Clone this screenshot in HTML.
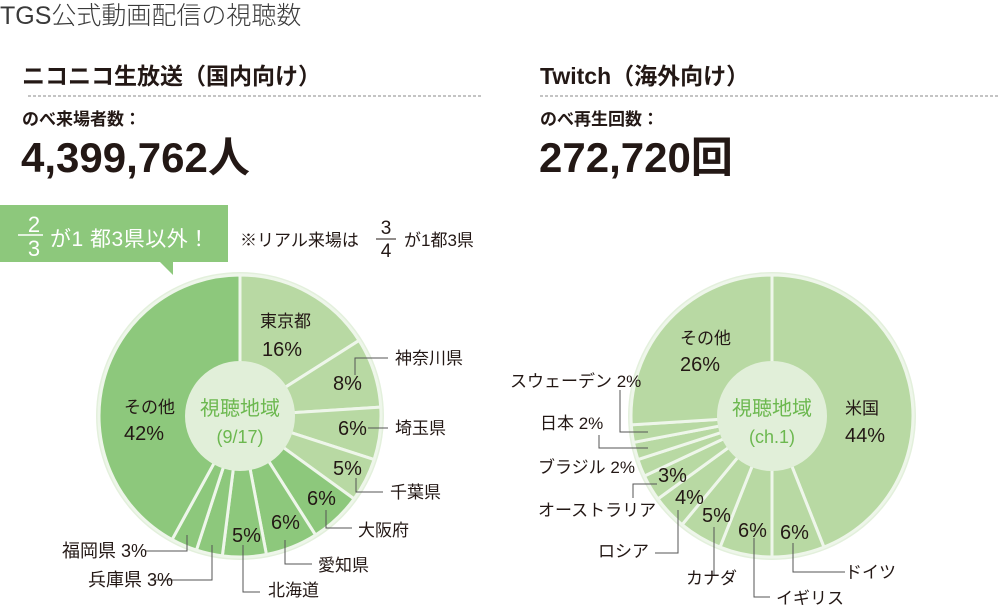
<!DOCTYPE html>
<html><head><meta charset="utf-8">
<style>
body{margin:0;width:1000px;height:613px;background:#fff;overflow:hidden;font-family:"Liberation Sans","Noto Sans CJK JP",sans-serif;}
svg{display:block}
text{font-family:"Liberation Sans","Noto Sans CJK JP",sans-serif;fill:#231815}
</style></head><body>
<svg id="s" width="1000" height="613" viewBox="0 0 1000 613">
<text x="0" y="24" font-size="25" style="fill:#3a3a3a;font-weight:300">TGS公式動画配信の視聴数</text>
<text x="22" y="84" font-size="23" font-weight="bold">ニコニコ生放送（国内向け）</text>
<text x="540" y="84" font-size="23" font-weight="bold">Twitch（海外向け）</text>
<line x1="28" y1="96" x2="482" y2="96" stroke="#888" stroke-dasharray="3,2" stroke-width="1"/>
<line x1="540" y1="96" x2="998" y2="96" stroke="#888" stroke-dasharray="3,2" stroke-width="1"/>
<text x="22" y="125" font-size="17" font-weight="bold">のべ来場者数：</text>
<text x="540" y="125" font-size="17" font-weight="bold">のべ再生回数：</text>
<text x="21" y="172" font-size="42" font-weight="bold">4,399,762人</text>
<text x="539" y="172" font-size="42" font-weight="bold">272,720回</text>
<!-- callout -->
<path d="M0,205 H228 V262 H173 V275 L160,262 H0 Z" fill="#8dc87c"/>
<text x="34" y="232" font-size="22" text-anchor="middle" style="fill:#fff">2</text>
<line x1="18" y1="235" x2="43" y2="235" stroke="#fff" stroke-width="1.5"/>
<text x="34" y="256" font-size="22" text-anchor="middle" style="fill:#fff">3</text>
<text x="50" y="246" font-size="21" style="fill:#fff" letter-spacing="0.5">が1 都3県以外！</text>
<text x="240" y="246" font-size="17">※リアル来場は</text>
<text x="386" y="234" font-size="19" text-anchor="middle">3</text>
<line x1="376" y1="239" x2="396" y2="239" stroke="#231815" stroke-width="1"/>
<text x="386" y="257" font-size="19" text-anchor="middle">4</text>
<text x="404" y="246" font-size="17">が1都3県</text>
<g id="pies"></g>
<g stroke="#555" stroke-width="1" fill="none">
<polyline points="355,375 355,358 388,358"/>
<polyline points="368,428 388,428"/>
<polyline points="356,478 356,492 383,492"/>
<polyline points="326,510 326,528 352,528"/>
<polyline points="285,540 285,564 312,564"/>
<polyline points="243,545 243,592 260,592"/>
<polyline points="150,580 212,580 212,545"/>
<polyline points="145,551 187,551 187,535"/>
<polyline points="648,432 620,432 620,390"/>
<polyline points="648,448 599,448 599,435"/>
<polyline points="657,484 633,484 633,498"/>
<polyline points="678,510 678,553 655,553"/>
<polyline points="714,527 714,575"/>
<polyline points="754,538 754,597 770,597"/>
<polyline points="793,543 793,572 845,572"/>
</g>
<g font-size="17">
<text x="260" y="327">東京都</text>
<text x="395" y="364">神奈川県</text>
<text x="395" y="434">埼玉県</text>
<text x="390" y="498">千葉県</text>
<text x="358" y="536">大阪府</text>
<text x="318" y="571">愛知県</text>
<text x="268" y="596">北海道</text>
<text x="88" y="586" font-size="18">兵庫県 3%</text>
<text x="62" y="557" font-size="18">福岡県 3%</text>
<text x="124" y="413">その他</text>
<text x="680" y="344">その他</text>
<text x="845" y="414">米国</text>
<text x="510" y="387">スウェーデン 2%</text>
<text x="540" y="429">日本 2%</text>
<text x="538" y="473">ブラジル 2%</text>
<text x="538" y="516">オーストラリア</text>
<text x="598" y="557">ロシア</text>
<text x="686" y="584">カナダ</text>
<text x="776" y="604">イギリス</text>
<text x="845" y="578">ドイツ</text>
</g>
<g font-size="20">
<text x="262" y="356">16%</text>
<text x="333" y="390">8%</text>
<text x="338" y="435">6%</text>
<text x="333" y="475">5%</text>
<text x="307" y="505">6%</text>
<text x="271" y="529">6%</text>
<text x="232" y="542">5%</text>
<text x="124" y="440">42%</text>
<text x="680" y="371">26%</text>
<text x="845" y="442">44%</text>
<text x="658" y="482">3%</text>
<text x="675" y="504">4%</text>
<text x="702" y="522">5%</text>
<text x="738" y="537">6%</text>
<text x="780" y="539">6%</text>
</g>
<g font-size="20" text-anchor="middle">
<text x="240" y="415" style="fill:#6cb84f">視聴地域</text>
<text x="240" y="443" font-size="18" style="fill:#6cb84f">(9/17)</text>
<text x="772" y="415" style="fill:#6cb84f">視聴地域</text>
<text x="772" y="443" font-size="18" style="fill:#6cb84f">(ch.1)</text>
</g>
</svg>
<script>
var NS="http://www.w3.org/2000/svg",g=document.getElementById('pies');
function pie(cx,cy,r,ri,slices){
  var h=document.createElementNS(NS,'circle');h.setAttribute('cx',cx);h.setAttribute('cy',cy);h.setAttribute('r',r+3);h.setAttribute('fill','#e3f0dc');g.appendChild(h);
  var a=0;
  slices.forEach(function(s){
    var a0=a*Math.PI*2/100,a1=(a+s[0])*Math.PI*2/100;a+=s[0];
    var x0=cx+r*Math.sin(a0),y0=cy-r*Math.cos(a0),x1=cx+r*Math.sin(a1),y1=cy-r*Math.cos(a1);
    var p=document.createElementNS(NS,'path');
    p.setAttribute('d','M'+cx+','+cy+' L'+x0+','+y0+' A'+r+','+r+' 0 '+(s[0]>50?1:0)+' 1 '+x1+','+y1+' Z');
    p.setAttribute('fill',s[1]);p.setAttribute('stroke','#eef6ea');p.setAttribute('stroke-width','3');p.setAttribute('stroke-linejoin','round');
    g.appendChild(p);
  });
  var c=document.createElementNS(NS,'circle');c.setAttribute('cx',cx);c.setAttribute('cy',cy);c.setAttribute('r',ri);c.setAttribute('fill','#e1efd9');g.appendChild(c);
}
var L='#b8d9a3',D='#8dc87c';
pie(240,416,141,55,[[16,L],[8,L],[6,L],[5,L],[6,D],[6,D],[5,D],[3,D],[3,D],[42,D]]);
pie(772,416,141,55,[[44,L],[6,L],[6,L],[5,L],[4,L],[3,L],[2,L],[2,L],[2,L],[26,L]]);
</script>
</body></html>
